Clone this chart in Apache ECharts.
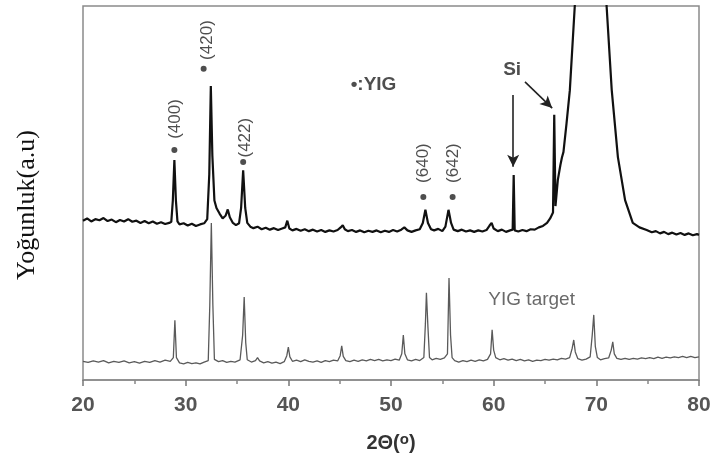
<!DOCTYPE html>
<html>
<head>
<meta charset="utf-8">
<script src="https://cdn.jsdelivr.net/npm/echarts@6/dist/echarts.min.js"></script>
<style>
  html, body { margin: 0; padding: 0; background: #fff; }
  #chart { width: 716px; height: 462px; }
</style>
</head>
<body>
<div id="chart"></div>
<script>
// XRD scans: [2θ (deg), intensity (a.u., offset per trace)]
const filmScan = [
  [20.0,42.6],[20.4,43.2],[20.8,42.4],[21.2,43.0],[21.6,42.7],[22.0,43.3],[22.4,42.5],[22.8,42.9],
  [23.2,42.2],[23.6,42.8],[24.0,42.4],[24.4,43.0],[24.8,42.3],[25.2,42.6],[25.6,42.0],[26.0,42.5],
  [26.4,41.9],[26.8,42.4],[27.2,41.8],[27.6,42.2],[28.0,41.7],[28.4,42.0],[28.6,42.3],[28.75,48],
  [28.9,58.8],[29.05,48],[29.2,42.4],[29.4,41.6],[29.8,41.9],[30.2,41.3],[30.6,41.8],[31.0,41.2],
  [31.4,41.6],[31.8,41.9],[32.1,43],[32.3,55],[32.45,78.6],[32.6,60],[32.8,48],[33.0,46],
  [33.3,44.5],[33.6,43.2],[33.9,44.0],[34.1,45.6],[34.3,43.5],[34.6,42.0],[34.9,41.4],[35.2,41.9],
  [35.4,46],[35.6,56.1],[35.8,46],[36.0,42],[36.3,41.0],[36.6,40.6],[37.0,41.0],[37.4,40.3],
  [37.8,40.7],[38.2,40.2],[38.6,40.6],[39.0,40.1],[39.4,40.5],[39.7,40.8],[39.9,42.6],[40.1,40.5],
  [40.4,40.0],[40.8,40.4],[41.2,39.9],[41.6,40.3],[42.0,39.8],[42.4,40.2],[42.8,39.7],[43.2,40.1],
  [43.6,39.6],[44.0,40.0],[44.4,39.7],[44.8,40.1],[45.1,40.8],[45.3,41.4],[45.5,40.3],[45.8,39.8],
  [46.2,40.1],[46.6,39.6],[47.0,40.0],[47.4,39.5],[47.8,39.9],[48.2,39.6],[48.6,40.0],[49.0,39.5],
  [49.4,39.9],[49.8,39.6],[50.2,40.1],[50.6,39.7],[51.0,40.2],[51.3,40.8],[51.6,40.0],[52.0,39.6],
  [52.4,40.0],[52.8,40.3],[53.1,42],[53.35,45.5],[53.6,42],[53.9,40.3],[54.2,40.0],[54.6,40.4],
  [55.0,39.8],[55.3,41],[55.6,45.5],[55.85,42],[56.1,40.2],[56.5,39.8],[56.9,40.2],[57.3,39.7],
  [57.7,40.0],[58.1,39.6],[58.5,40.0],[58.9,39.7],[59.3,40.1],[59.6,41.3],[59.8,42.0],[60.0,40.5],
  [60.4,39.8],[60.8,40.2],[61.2,39.6],[61.6,40.0],[61.85,40.2],[61.95,54.8],[62.05,40.0],[62.4,39.7],
  [62.8,40.1],[63.2,39.8],[63.6,40.3],[64.0,40.2],[64.4,40.8],[64.8,41.2],[65.2,42.0],[65.5,43.2],
  [65.78,44.8],[65.9,70.9],[66.02,46.5],[66.25,53.5],[66.5,57.5],[66.65,59.5],[66.8,61.0],[67.1,68.7],
  [67.42,77.5],[67.9,100],[68.4,125],[69.0,145],[69.5,150],[70.0,145],[70.5,125],[71.0,100],
  [71.5,77.5],[72.1,59.6],[72.8,48.1],[73.55,42.0],[74.2,40.8],[74.9,40.1],[75.4,39.5],
  [75.8,39.8],[76.2,39.2],[76.6,39.6],[77.0,39.0],[77.4,39.4],[77.8,38.9],
  [78.2,39.3],[78.6,38.8],[79.0,39.2],[79.4,38.7],[79.8,39.0],[80.0,38.8]
];

const targetScan = [
  [20.0,5.0],[20.5,4.7],[21.0,5.1],[21.5,4.8],[22.0,5.2],[22.5,4.6],[23.0,5.0],[23.5,4.7],
  [24.0,5.1],[24.5,4.6],[25.0,4.9],[25.5,4.5],[26.0,5.0],[26.5,4.7],[27.0,5.2],[27.5,4.8],
  [28.0,5.3],[28.5,5.0],[28.8,6],[28.95,16.0],[29.1,6],[29.4,4.6],[29.8,4.3],[30.2,4.7],
  [30.6,4.4],[31.0,4.6],[31.4,4.3],[31.8,4.8],[32.2,5.2],[32.35,20],[32.5,42],[32.65,20],
  [32.8,5.5],[33.2,4.9],[33.6,5.2],[34.0,4.7],[34.4,5.0],[34.8,4.8],[35.3,5.4],[35.55,12],
  [35.7,22.2],[35.85,10],[36.0,5.4],[36.4,4.8],[36.8,5.2],[37.0,6.0],[37.2,5.1],[37.6,4.6],
  [38.0,4.9],[38.4,4.5],[38.8,4.8],[39.2,4.4],[39.6,4.9],[39.85,6.5],[40.0,8.8],[40.15,6.2],
  [40.4,5.0],[40.8,5.3],[41.2,4.9],[41.6,5.4],[42.0,5.0],[42.4,4.8],[42.8,5.1],[43.2,4.7],
  [43.6,5.2],[44.0,4.9],[44.4,5.3],[44.8,5.1],[45.05,6.5],[45.2,9.1],[45.35,6.3],[45.6,5.2],
  [46.0,4.9],[46.4,5.3],[46.8,5.0],[47.2,5.4],[47.6,5.1],[48.0,5.5],[48.4,5.2],[48.8,5.5],
  [49.2,5.1],[49.6,5.4],[50.0,5.2],[50.4,5.6],[50.8,5.3],[51.05,7.0],[51.2,12.0],[51.35,7.0],
  [51.6,5.4],[52.0,5.1],[52.4,5.5],[52.8,5.2],[53.2,6.0],[53.35,15],[53.45,23.3],[53.6,14],
  [53.75,6.0],[54.0,5.4],[54.4,5.8],[54.8,5.5],[55.2,5.9],[55.5,7],[55.65,27.3],[55.8,12],
  [55.95,6.0],[56.2,5.2],[56.6,4.8],[57.0,5.2],[57.4,4.9],[57.8,5.3],[58.2,5.0],[58.6,5.4],
  [59.0,5.1],[59.4,5.5],[59.7,7.0],[59.85,13.4],[60.0,8.0],[60.2,6.0],[60.6,5.4],[61.0,5.7],
  [61.4,5.3],[61.8,5.6],[62.2,5.2],[62.6,5.5],[63.0,5.1],[63.4,5.4],[63.8,5.0],[64.2,5.3],
  [64.6,5.2],[65.0,5.5],[65.4,5.3],[65.8,5.6],[66.2,5.4],[66.6,5.8],[67.0,5.6],[67.4,6.0],
  [67.65,8.5],[67.8,10.7],[67.95,7.5],[68.2,5.7],[68.6,5.3],[69.0,5.6],[69.4,6.2],[69.6,12],
  [69.75,17.4],[69.9,9],[70.1,6.0],[70.4,5.4],[70.8,5.7],[71.2,5.9],[71.45,8],[71.6,10.2],
  [71.75,7],[72.0,5.8],[72.4,5.5],[72.8,5.8],[73.2,5.5],[73.6,5.8],[74.0,5.6],[74.4,5.9],
  [74.8,5.7],[75.2,6.0],[75.6,5.7],[76.0,6.1],[76.4,5.8],[76.8,6.1],[77.2,5.9],[77.6,6.2],
  [78.0,6.0],[78.4,6.3],[78.8,6.0],[79.2,6.3],[79.6,6.0],[80.0,6.2]
];

// YIG reflection markers (dot) and their Miller-index tags
const hklTags = ['(400)', '(420)', '(422)', '(640)', '(642)'];
const hklDotAt = [[28.9,61.5],[31.75,83.2],[35.6,58.3],[53.15,48.9],[56.0,48.9]];
const hklTagAt = [[29.0,69.8],[32.07,90.9],[35.77,64.8],[53.1,58.0],[56.1,58.0]];

// free text notes on the plot: [text, 2θ, intensity]
const notes = [['•:YIG', 48.3, 78.9], ['Si', 61.8, 82.9]];
const targetNote = ['YIG target', 63.7, 21.4];

// Si arrows: [from, to]
const siArrows = [
  [[61.9, 76.2], [61.9, 57.0]],
  [[63.05, 79.7], [65.7, 72.7]]
];

const xTicks = { min: 20, max: 80, step: 10 };

const chart = echarts.init(document.getElementById('chart'), null, { renderer: 'canvas' });

chart.setOption({
  animation: false,
  backgroundColor: '#fff',
  grid: {
    left: 83, right: 17, top: 6, bottom: 82,
    show: true, borderColor: '#8a8a8a', borderWidth: 1.5
  },
  xAxis: {
    type: 'value',
    min: xTicks.min, max: xTicks.max, interval: xTicks.step,
    name: '{a|2Θ(}{s|o}{a|)}',
    nameLocation: 'middle',
    nameGap: 52,
    nameTextStyle: {
      rich: {
        a: { fontFamily: 'Liberation Sans, Arial, sans-serif', fontSize: 20, fontWeight: 'bold', color: '#333' },
        s: { fontFamily: 'Liberation Sans, Arial, sans-serif', fontSize: 15, fontWeight: 'bold', color: '#333', verticalAlign: 'top', padding: [0, 0, 8, 0] }
      }
    },
    axisLine: { show: true, lineStyle: { color: '#8a8a8a', width: 1.5 } },
    axisTick: { show: true, length: 6, lineStyle: { color: '#777', width: 1.5 } },
    minorTick: { show: true, splitNumber: 2, length: 4, lineStyle: { color: '#888', width: 1.5 } },
    splitLine: { show: false },
    axisLabel: {
      margin: 15,
      fontFamily: 'Liberation Sans, Arial, sans-serif',
      fontSize: 21, fontWeight: 'bold', color: '#555'
    }
  },
  yAxis: {
    type: 'value', min: 0, max: 100,
    axisLine: { show: false }, axisTick: { show: false },
    axisLabel: { show: false }, splitLine: { show: false }
  },
  graphic: [{
    type: 'text',
    x: 27, y: 205,
    rotation: Math.PI / 2,
    style: {
      text: 'Yoğunluk(a.u)',
      fontFamily: 'Liberation Serif, Times New Roman, serif',
      fontSize: 26, fill: '#111',
      align: 'center', verticalAlign: 'middle'
    }
  }],
  series: [
    {
      name: 'YIG target',
      type: 'line',
      data: targetScan,
      showSymbol: false,
      lineStyle: { color: '#5a5a5a', width: 1.3 },
      z: 2
    },
    {
      name: 'YIG film',
      type: 'line',
      data: filmScan,
      showSymbol: false,
      clip: true,
      lineStyle: { color: '#111', width: 2.2 },
      z: 3,
      markLine: {
        silent: true,
        symbol: ['none', 'arrow'],
        symbolSize: [9, 12],
        label: { show: false },
        lineStyle: { color: '#222', width: 1.6, type: 'solid' },
        data: siArrows.map(([a, b]) => [{ coord: a }, { coord: b }])
      }
    },
    {
      name: 'markers',
      type: 'scatter',
      data: hklDotAt,
      symbol: 'circle', symbolSize: 6,
      itemStyle: { color: '#222' },
      z: 4
    },
    {
      name: 'hkl',
      type: 'scatter',
      symbolSize: 0,
      data: hklTagAt.map((p, i) => ({ value: p, name: hklTags[i] })),
      label: {
        show: true, position: 'inside', rotate: 90,
        formatter: (p) => p.name,
        fontFamily: 'Liberation Sans, Arial, sans-serif',
        fontSize: 17, color: '#222'
      },
      z: 4
    },
    {
      name: 'notes',
      type: 'scatter',
      symbolSize: 0,
      data: notes.map(n => ({ value: [n[1], n[2]], name: n[0] })),
      label: {
        show: true, position: 'inside',
        formatter: (p) => p.name,
        fontFamily: 'Liberation Sans, Arial, sans-serif',
        fontSize: 19, fontWeight: 'bold', color: '#222'
      },
      z: 4
    },
    {
      name: 'target note',
      type: 'scatter',
      symbolSize: 0,
      data: [{ value: [targetNote[1], targetNote[2]], name: targetNote[0] }],
      label: {
        show: true, position: 'inside',
        formatter: (p) => p.name,
        fontFamily: 'Liberation Sans, Arial, sans-serif',
        fontSize: 19, color: '#444'
      },
      z: 4
    }
  ]
});
</script>
</body>
</html>
